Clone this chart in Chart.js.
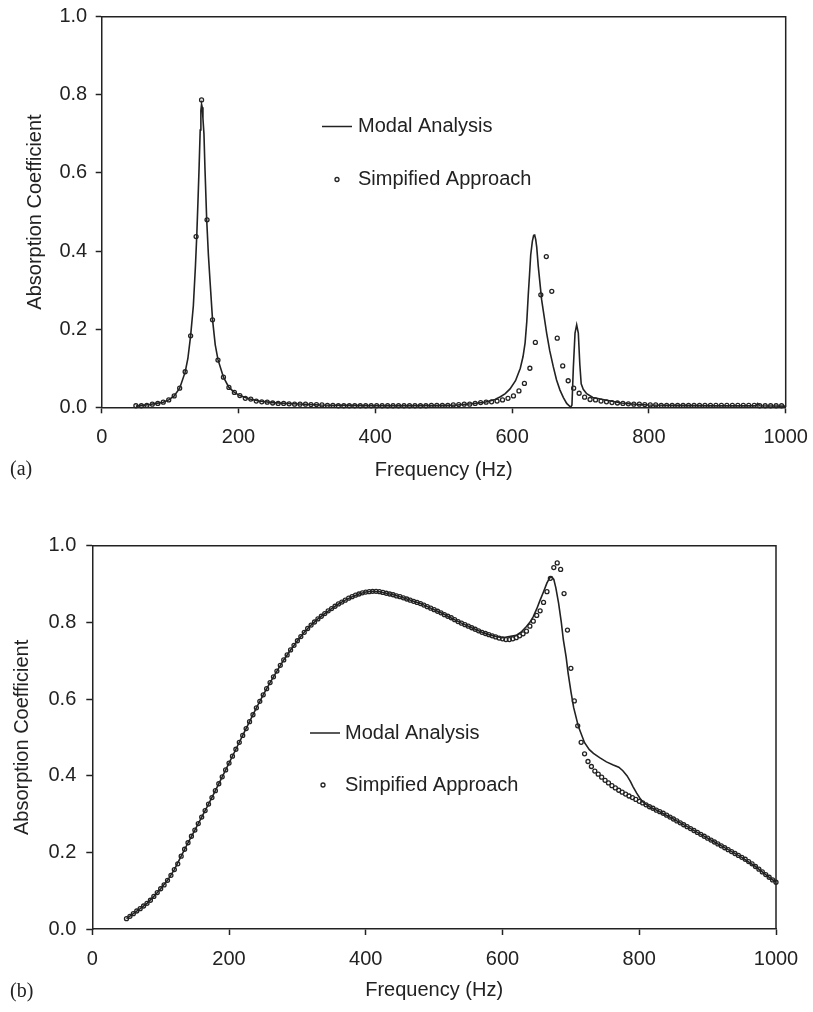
<!DOCTYPE html>
<html>
<head>
<meta charset="utf-8">
<script src="https://cdn.jsdelivr.net/npm/chart.js@4.4.0/dist/chart.umd.min.js"></script>
<style>
  body { margin: 0; background: #fff; }
  canvas { display: block; }
</style>
</head>
<body>
<canvas id="chartA" width="813" height="490"></canvas>
<canvas id="chartB" width="813" height="522"></canvas>
<script>
// ---- panel (a) ----
const freqA = [50,58,66,74,82,90,98,106,114,122,
  130,138,146,154,162,170,178,186,194,202,
  210,218,226,234,242,250,258,266,274,282,
  290,298,306,314,322,330,338,346,354,362,
  370,378,386,394,402,410,418,426,434,442,
  450,458,466,474,482,490,498,506,514,522,
  530,538,546,554,562,570,578,586,594,602,
  610,618,626,634,642,650,658,666,674,682,
  690,698,706,714,722,730,738,746,754,762,
  770,778,786,794,802,810,818,826,834,842,
  850,858,866,874,882,890,898,906,914,922,
  930,938,946,954,962,970,978,986,994];
const simpA = [0.004,0.004,0.005,0.008,0.010,0.013,0.019,0.029,0.049,0.091,
  0.183,0.437,0.787,0.480,0.224,0.121,0.077,0.051,0.038,0.030,
  0.023,0.021,0.016,0.014,0.013,0.011,0.010,0.010,0.009,0.008,
  0.008,0.008,0.007,0.007,0.006,0.005,0.005,0.004,0.004,0.004,
  0.004,0.004,0.004,0.004,0.004,0.004,0.004,0.004,0.004,0.004,
  0.004,0.004,0.004,0.004,0.005,0.005,0.005,0.005,0.006,0.007,
  0.008,0.008,0.010,0.012,0.013,0.014,0.016,0.019,0.023,0.029,
  0.042,0.061,0.100,0.166,0.288,0.386,0.297,0.177,0.106,0.068,
  0.049,0.036,0.026,0.020,0.019,0.016,0.014,0.012,0.011,0.010,
  0.009,0.008,0.008,0.007,0.006,0.006,0.005,0.005,0.005,0.005,
  0.005,0.005,0.005,0.005,0.005,0.005,0.005,0.005,0.005,0.005,
  0.005,0.005,0.005,0.005,0.004,0.004,0.004,0.004,0.004];
const modalFreqA = [50,60,70,80,90,98,106,114,122,126,
  130,134,137,139,141,142.5,144,145,146,147,
  148,149.5,151,153.5,156,158.5,162,166,170,178,
  186,194,202,215,230,250,280,320,360,400,
  450,500,520,540,560,575,583,590,597,605,
  612,616,619,621.5,623.7,625.5,627.2,629.6,631.5,633,
  634.5,636,638.3,643.2,650.5,655,660.2,665,670,675,
  679.8,685.7,687.5,689.5,692,694.4,696.8,699,701,704,
  709,718,738,760,780,800,850,900,956,959,
  962,1000];
const modalA = [0.003,0.005,0.007,0.010,0.013,0.019,0.029,0.049,0.090,0.125,
  0.183,0.26,0.36,0.44,0.54,0.62,0.71,0.76,0.776,0.768,
  0.74,0.70,0.61,0.48,0.39,0.32,0.225,0.16,0.122,0.077,
  0.051,0.038,0.030,0.022,0.016,0.012,0.009,0.006,0.005,0.004,
  0.004,0.005,0.006,0.009,0.013,0.020,0.027,0.035,0.047,0.068,
  0.10,0.13,0.165,0.22,0.29,0.34,0.39,0.425,0.44,0.441,
  0.43,0.41,0.36,0.275,0.19,0.145,0.104,0.07,0.044,0.025,
  0.01,0.0,0.006,0.10,0.19,0.211,0.19,0.11,0.06,0.046,
  0.035,0.025,0.018,0.011,0.008,0.006,0.005,0.004,0.004,0.010,
  0.004,0.003];

// ---- panel (b) ----
const freqB = [50,55,60,65,70,75,80,85,90,95,
  100,105,110,115,120,125,130,135,140,145,
  150,155,160,165,170,175,180,185,190,195,
  200,205,210,215,220,225,230,235,240,245,
  250,255,260,265,270,275,280,285,290,295,
  300,305,310,315,320,325,330,335,340,345,
  350,355,360,365,370,375,380,385,390,395,
  400,405,410,415,420,425,430,435,440,445,
  450,455,460,465,470,475,480,485,490,495,
  500,505,510,515,520,525,530,535,540,545,
  550,555,560,565,570,575,580,585,590,595,
  600,605,610,615,620,625,630,635,640,645,
  650,655,660,665,670,675,680,685,690,695,
  700,705,710,715,720,725,730,735,740,745,
  750,755,760,765,770,775,780,785,790,795,
  800,805,810,815,820,825,830,835,840,845,
  850,855,860,865,870,875,880,885,890,895,
  900,905,910,915,920,925,930,935,940,945,
  950,955,960,965,970,975,980,985,990,995,
  1000];
const simpB = [0.027,0.033,0.040,0.047,0.053,0.060,0.067,0.075,0.085,0.095,
  0.105,0.115,0.127,0.140,0.155,0.170,0.190,0.208,0.225,0.242,
  0.258,0.275,0.292,0.309,0.326,0.343,0.361,0.379,0.397,0.415,
  0.433,0.451,0.469,0.487,0.505,0.523,0.541,0.559,0.577,0.594,
  0.611,0.627,0.643,0.658,0.673,0.688,0.702,0.715,0.728,0.740,
  0.752,0.763,0.774,0.784,0.793,0.801,0.809,0.816,0.823,0.830,
  0.836,0.842,0.848,0.853,0.858,0.863,0.867,0.871,0.874,0.877,
  0.879,0.880,0.881,0.881,0.880,0.878,0.876,0.874,0.872,0.869,
  0.867,0.864,0.861,0.858,0.855,0.852,0.849,0.845,0.841,0.837,
  0.833,0.829,0.825,0.820,0.816,0.812,0.807,0.802,0.798,0.794,
  0.790,0.786,0.782,0.778,0.774,0.771,0.768,0.765,0.762,0.759,
  0.757,0.755,0.755,0.757,0.760,0.765,0.770,0.777,0.790,0.803,
  0.818,0.830,0.852,0.880,0.915,0.943,0.955,0.938,0.875,0.780,
  0.680,0.595,0.530,0.487,0.457,0.437,0.424,0.412,0.404,0.396,
  0.388,0.381,0.374,0.368,0.362,0.357,0.352,0.347,0.343,0.338,
  0.333,0.329,0.324,0.319,0.315,0.310,0.306,0.302,0.297,0.292,
  0.287,0.282,0.277,0.272,0.267,0.262,0.257,0.252,0.247,0.242,
  0.237,0.232,0.227,0.222,0.217,0.212,0.207,0.202,0.197,0.192,
  0.187,0.182,0.176,0.170,0.163,0.156,0.149,0.142,0.135,0.128,
  0.122];
const modalFreqB = [50,60,70,80,90,100,110,120,130,140,
  150,160,170,180,190,200,210,220,230,240,
  250,260,270,280,290,300,310,320,330,340,
  350,360,370,380,390,400,410,420,430,440,
  450,460,470,480,490,500,510,520,530,540,
  550,560,570,580,590,600,610,620,628,635,
  640,645,650,655,660,665,669,672,675,678,
  682,686,689,693,696,700,704,711,720,727,
  733,742,752,762,770,776,782,787,791,796,
  801,806,815,830,850,870,890,910,930,950,
  970,990,1000];
const modalB = [0.027,0.040,0.053,0.067,0.085,0.105,0.127,0.155,0.190,0.225,
  0.258,0.292,0.326,0.361,0.397,0.433,0.469,0.505,0.541,0.577,
  0.611,0.643,0.673,0.702,0.728,0.752,0.774,0.793,0.809,0.823,
  0.836,0.848,0.858,0.867,0.874,0.879,0.881,0.880,0.876,0.872,
  0.867,0.861,0.855,0.849,0.841,0.833,0.825,0.816,0.807,0.798,
  0.790,0.782,0.774,0.768,0.763,0.760,0.763,0.766,0.776,0.789,
  0.800,0.815,0.835,0.858,0.880,0.903,0.916,0.919,0.912,0.890,
  0.850,0.800,0.754,0.710,0.667,0.620,0.578,0.528,0.486,0.468,
  0.458,0.447,0.436,0.428,0.422,0.413,0.400,0.385,0.371,0.355,
  0.341,0.330,0.319,0.306,0.287,0.267,0.247,0.227,0.207,0.187,
  0.163,0.135,0.122];

const xTicks = [0, 200, 400, 600, 800, 1000];
const yTicks = [0, 0.2, 0.4, 0.6, 0.8, 1.0];
const seriesNames = ["Modal Analysis", "Simpified Approach"];

const INK = "#222";
const SANS = '"Liberation Sans", Arial, Helvetica, sans-serif';
const SERIF = '"Liberation Serif", "Times New Roman", serif';

const toPoints = (xs, ys) => xs.map((x, i) => ({ x: x, y: ys[i] }));

// box (top/right), in-plot legend and panel tag
const panelDecor = {
    id: "panelDecor",
    afterDraw(chart, args, o) {
        const { ctx, chartArea: a } = chart;
        const ds = chart.data.datasets;
        ctx.save();
        ctx.strokeStyle = INK;
        ctx.lineWidth = 1.5;
        ctx.beginPath();
        ctx.moveTo(a.left, a.top);
        ctx.lineTo(a.right, a.top);
        ctx.lineTo(a.right, a.bottom);
        ctx.stroke();

        ctx.fillStyle = INK;
        ctx.textBaseline = "middle";
        ctx.font = "20px " + SANS;
        ctx.beginPath();
        ctx.moveTo(o.lineX0, o.row1);
        ctx.lineTo(o.lineX1, o.row1);
        ctx.stroke();
        ctx.fillText(ds[0].label, o.textX, o.row1);
        ctx.lineWidth = 1.3;
        ctx.beginPath();
        ctx.arc(o.dotX, o.row2, 2, 0, Math.PI * 2);
        ctx.stroke();
        ctx.fillText(ds[1].label, o.textX, o.row2);

        ctx.font = "20px " + SERIF;
        ctx.fillText(o.tag, 10, o.tagY);
        ctx.restore();
    },
};

function makeChart(id, lineData, dotData, lay) {
    const ctx = document.getElementById(id).getContext("2d");
    return new Chart(ctx, {
        type: "scatter",
        data: {
            datasets: [
                {
                    label: seriesNames[0],
                    data: lineData,
                    showLine: true,
                    borderColor: INK,
                    borderWidth: 1.6,
                    pointRadius: 0,
                    tension: 0,
                    clip: false,
                },
                {
                    label: seriesNames[1],
                    data: dotData,
                    showLine: false,
                    pointRadius: 2,
                    pointBorderWidth: 1.3,
                    pointBorderColor: INK,
                    pointBackgroundColor: "rgba(0,0,0,0)",
                    clip: false,
                },
            ],
        },
        options: {
            responsive: false,
            animation: false,
            devicePixelRatio: 1,
            layout: { padding: { top: lay.top, right: lay.right, bottom: 0, left: 0 } },
            plugins: {
                legend: { display: false },
                tooltip: { enabled: false },
                panelDecor: lay.decor,
            },
            scales: {
                x: {
                    type: "linear",
                    min: 0,
                    max: 1000,
                    afterBuildTicks: (s) => { s.ticks = xTicks.map((v) => ({ value: v })); },
                    afterFit: (s) => {
                        s.height = lay.xHeight;
                        s.paddingLeft = 0;
                        s.paddingRight = 0;
                    },
                    ticks: {
                        color: INK,
                        font: { family: SANS, size: 20 },
                        padding: lay.xPad,
                        maxRotation: 0,
                        callback: (v) => String(v),
                    },
                    grid: { drawOnChartArea: false, drawTicks: true, tickLength: 6, tickWidth: 1.5, color: INK },
                    border: { color: INK, width: 1.5 },
                    title: {
                        display: true,
                        text: "Frequency (Hz)",
                        color: INK,
                        font: { family: SANS, size: 20 },
                        padding: { top: 0, bottom: lay.xTitlePad },
                    },
                },
                y: {
                    min: 0,
                    max: 1,
                    afterBuildTicks: (s) => { s.ticks = yTicks.map((v) => ({ value: v })); },
                    afterFit: (s) => {
                        s.width = lay.yWidth;
                        s.paddingTop = 0;
                        s.paddingBottom = 0;
                    },
                    ticks: {
                        color: INK,
                        font: { family: SANS, size: 20 },
                        padding: lay.yPad,
                        callback: (v) => v.toFixed(1),
                    },
                    grid: { drawOnChartArea: false, drawTicks: true, tickLength: 6, tickWidth: 1.5, color: INK },
                    border: { color: INK, width: 1.5 },
                    title: {
                        display: true,
                        text: "Absorption Coefficient",
                        color: INK,
                        font: { family: SANS, size: 20 },
                        padding: { top: lay.yTitlePad, bottom: 0 },
                    },
                },
            },
        },
        plugins: [panelDecor],
    });
}

makeChart("chartA", toPoints(modalFreqA, modalA), toPoints(freqA, simpA), {
    top: 16.7, right: 27.3, xHeight: 82.7, yWidth: 101.7,
    xPad: 12, yPad: 8.5, xTitlePad: 8, yTitlePad: 23,
    decor: { lineX0: 322, lineX1: 352, row1: 126.5, textX: 358, dotX: 337, row2: 179.5, tag: "(a)", tagY: 470 },
});

makeChart("chartB", toPoints(modalFreqB, modalB), toPoints(freqB, simpB), {
    top: 55.7, right: 37, xHeight: 83, yWidth: 92.3,
    xPad: 12, yPad: 10, xTitlePad: 10, yTitlePad: 10,
    decor: { lineX0: 310, lineX1: 340, row1: 243, textX: 345, dotX: 323, row2: 295, tag: "(b)", tagY: 502 },
});
</script>
</body>
</html>
